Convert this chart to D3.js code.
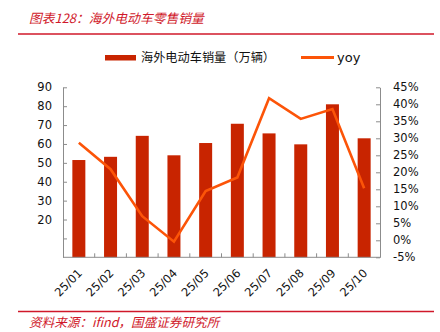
<!DOCTYPE html>
<html>
<head>
<meta charset="utf-8">
<script src="https://cdn.jsdelivr.net/npm/d3@7/dist/d3.min.js"></script>
<style>
  html, body { margin: 0; padding: 0; background: #fff; }
  svg { display: block; }
  .num { font-family: "DejaVu Sans", Verdana, sans-serif; fill: #111; }
  .cjk { font-family: "Noto Sans CJK SC", sans-serif; }
</style>
</head>
<body>
<svg id="chart" width="440" height="332"></svg>
<script>
// Monthly overseas EV retail sales (10k units) and year-on-year growth
const months = ["25/01", "25/02", "25/03", "25/04", "25/05", "25/06", "25/07", "25/08", "25/09", "25/10"];
const sales = [51.5, 53.2, 64.3, 54.0, 60.5, 70.7, 65.6, 59.8, 81.0, 63.0];
const yoy = [28.7, 20.9, 7.1, -0.4, 14.5, 18.5, 41.8, 35.7, 38.6, 15.3];
const leftTicks = [10, 20, 30, 40, 50, 60, 70, 80, 90];
const leftLabels = [20, 30, 40, 50, 60, 70, 80, 90];
const rightTicks = [-5, 0, 5, 10, 15, 20, 25, 30, 35, 40, 45];

const titleText = "图表128：海外电动车零售销量";
const sourceText = "资料来源：ifind，国盛证券研究所";
const barName = "海外电动车销量（万辆）";
const lineName = "yoy";

const red = "#d0182a";
const barColor = "#c82400";
const lineColor = "#fc5408";
const axisColor = "#8c8c8c";

const svg = d3.select("#chart");

const plot = { left: 63, right: 380, top: 87.3, bottom: 257.3 };

const x = d3.scaleBand().domain(months).range([plot.left, plot.right]).paddingInner(0).paddingOuter(0);
const yL = d3.scaleLinear().domain([0, 90]).range([plot.bottom, plot.top]);
const yR = d3.scaleLinear().domain([-5, 45]).range([plot.bottom, plot.top]);

// Header
svg.append("text")
  .attr("class", "cjk")
  .attr("x", 29).attr("y", 23)
  .attr("font-size", 12.8)
  .attr("font-style", "italic")
  .attr("fill", red)
  .text(titleText);
svg.append("line")
  .attr("x1", 18).attr("x2", 434).attr("y1", 34).attr("y2", 34)
  .attr("stroke", red).attr("stroke-width", 1.6);

// Legend
const legend = svg.append("g");
legend.append("rect")
  .attr("x", 105).attr("y", 55).attr("width", 31).attr("height", 5.5)
  .attr("fill", barColor);
legend.append("text")
  .attr("class", "cjk")
  .attr("x", 141).attr("y", 62)
  .attr("font-size", 12.2)
  .attr("fill", "#111")
  .text(barName);
legend.append("line")
  .attr("x1", 301).attr("x2", 334).attr("y1", 57.5).attr("y2", 57.5)
  .attr("stroke", lineColor).attr("stroke-width", 3);
legend.append("text")
  .attr("class", "num")
  .attr("x", 337).attr("y", 62)
  .attr("font-size", 13)
  .text(lineName);

// Bars
const barW = x.step() * 0.41;
svg.append("g").selectAll("rect")
  .data(months)
  .join("rect")
  .attr("x", (d) => x(d) + x.bandwidth() / 2 - barW / 2)
  .attr("width", barW)
  .attr("y", (d, i) => yL(sales[i]))
  .attr("height", (d, i) => yL(0) - yL(sales[i]))
  .attr("fill", barColor);

// Left axis
const leftAxis = d3.axisLeft(yL)
  .tickValues(leftTicks)
  .tickSizeInner(-4).tickSizeOuter(0)
  .tickFormat((d) => leftLabels.includes(d) ? d : "");
const gL = svg.append("g").attr("transform", `translate(${plot.left},0)`).call(leftAxis);
gL.select(".domain").attr("stroke", axisColor);
gL.selectAll(".tick line").attr("stroke", axisColor);
gL.selectAll(".tick text")
  .attr("class", "num")
  .attr("x", -11)
  .attr("font-size", 11.5)
  .attr("fill", "#111");

// Right axis
const rightAxis = d3.axisRight(yR)
  .tickValues(rightTicks)
  .tickSizeInner(-4).tickSizeOuter(0)
  .tickFormat((d) => d + "%");
const gR = svg.append("g").attr("transform", `translate(${plot.right},0)`).call(rightAxis);
gR.select(".domain").attr("stroke", axisColor);
gR.selectAll(".tick line").attr("stroke", axisColor);
gR.selectAll(".tick text")
  .attr("class", "num")
  .attr("x", 13)
  .attr("font-size", 11.5)
  .attr("fill", "#111");

// Bottom category axis with ticks between categories
svg.append("line")
  .attr("x1", plot.left).attr("x2", plot.right)
  .attr("y1", plot.bottom).attr("y2", plot.bottom)
  .attr("stroke", axisColor);
svg.append("g").selectAll("line")
  .data(months.slice(1))
  .join("line")
  .attr("x1", (d) => x(d)).attr("x2", (d) => x(d))
  .attr("y1", plot.bottom).attr("y2", plot.bottom - 4)
  .attr("stroke", axisColor);
svg.append("g").selectAll("text")
  .data(months)
  .join("text")
  .attr("class", "num")
  .attr("font-size", 11.5)
  .attr("text-anchor", "end")
  .attr("transform", (d) => `translate(${x(d) + x.bandwidth() / 2 + 4},${plot.bottom + 16.5}) rotate(-45)`)
  .text((d) => d);

// YoY line
const line = d3.line()
  .x((d, i) => x(months[i]) + x.bandwidth() / 2)
  .y((d) => yR(d));
svg.append("path")
  .datum(yoy)
  .attr("d", line)
  .attr("fill", "none")
  .attr("stroke", lineColor)
  .attr("stroke-width", 2.6)
  .attr("stroke-linejoin", "miter");

// Footer
svg.append("line")
  .attr("x1", 18).attr("x2", 434).attr("y1", 311.5).attr("y2", 311.5)
  .attr("stroke", red).attr("stroke-width", 1.6);
svg.append("text")
  .attr("class", "cjk")
  .attr("x", 29).attr("y", 327)
  .attr("font-size", 12.6)
  .attr("font-style", "italic")
  .attr("fill", red)
  .text(sourceText);
</script>
</body>
</html>
